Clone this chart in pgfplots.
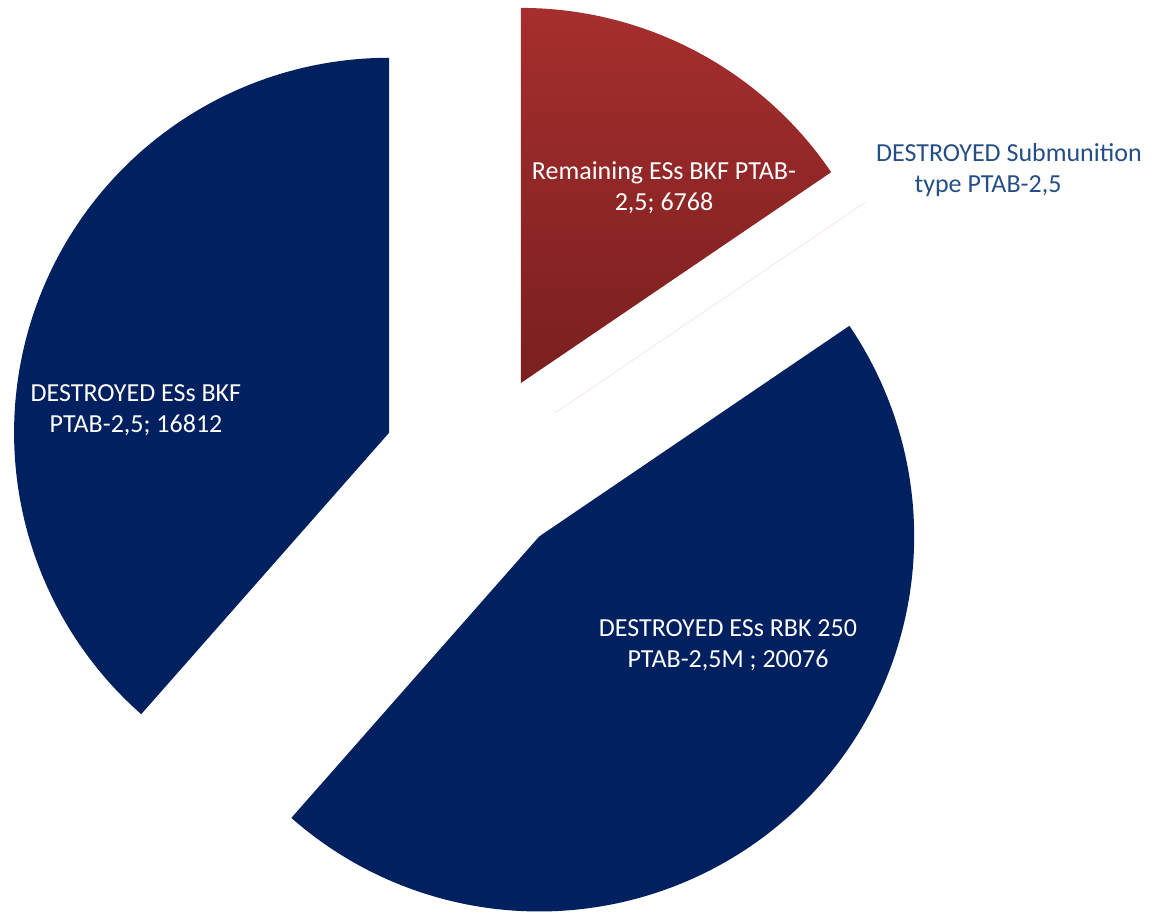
\documentclass[border=0pt]{standalone}
\usepackage{pgfplots}
\usepackage{pgfplotstable}
\pgfplotsset{compat=1.18}
\usepackage{fontspec}
\setmainfont{Carlito}
\definecolor{navy}{RGB}{0,32,96}
\definecolor{redtop}{RGB}{166,46,46}
\definecolor{redbot}{RGB}{122,31,31}
\definecolor{lblblue}{RGB}{37,78,134}
\definecolor{sliver}{RGB}{246,226,226}

% slice values, clockwise from 12 o'clock
\pgfplotstableread{
value
6768
1
20076
16812
}\piedata

\pgfplotstablegetelem{0}{value}\of\piedata \let\vA\pgfplotsretval
\pgfplotstablegetelem{1}{value}\of\piedata \let\vB\pgfplotsretval
\pgfplotstablegetelem{2}{value}\of\piedata \let\vC\pgfplotsretval
\pgfplotstablegetelem{3}{value}\of\piedata \let\vD\pgfplotsretval
\edef\tot{\fpeval{\vA+\vB+\vC+\vD}}
\edef\aA{90}
\edef\aB{\fpeval{round(\aA-360*\vA/\tot,4)}}
\edef\aC{\fpeval{round(\aB-360*\vB/\tot,4)}}
\edef\aD{\fpeval{round(\aC-360*\vC/\tot,4)}}
\edef\aE{\fpeval{round(\aD-360*\vD/\tot,4)}}
% pie centre, explosion distance, radius (in pixel units)
\def\cx{477}\def\cy{447}\def\ex{94}\def\R{375}
\edef\oxA{\fpeval{round(\cx+\ex*cosd((\aA+\aB)/2),3)}}\edef\oyA{\fpeval{round(\cy+\ex*sind((\aA+\aB)/2),3)}}
\edef\oxB{\fpeval{round(\cx+\ex*cosd((\aB+\aC)/2),3)}}\edef\oyB{\fpeval{round(\cy+\ex*sind((\aB+\aC)/2),3)}}
\edef\oxC{\fpeval{round(\cx+\ex*cosd((\aC+\aD)/2),3)}}\edef\oyC{\fpeval{round(\cy+\ex*sind((\aC+\aD)/2),3)}}
\edef\oxD{\fpeval{round(\cx+\ex*cosd((\aD+\aE)/2),3)}}\edef\oyD{\fpeval{round(\cy+\ex*sind((\aD+\aE)/2),3)}}

\begin{document}
\begin{tikzpicture}
\begin{axis}[
  scale only axis, width=581pt, height=456.5pt,
  xmin=0, xmax=1162, ymin=0, ymax=913,
  axis line style={draw=none}, ticks=none, clip=false,
]
\addplot[draw=none, top color=redtop, bottom color=redbot, domain=\aB:\aA, samples=120, variable=\t]
  ({\oxA+\R*cos(\t)},{\oyA+\R*sin(\t)}) -- (axis cs:\oxA,\oyA) -- cycle;
\addplot[draw=sliver, line width=0.3pt, fill=sliver, domain=\aC:\aB, samples=2, variable=\t]
  ({\oxB+\R*cos(\t)},{\oyB+\R*sin(\t)}) -- (axis cs:\oxB,\oyB) -- cycle;
\addplot[draw=none, fill=navy, domain=\aD:\aC, samples=200, variable=\t]
  ({\oxC+\R*cos(\t)},{\oyC+\R*sin(\t)}) -- (axis cs:\oxC,\oyC) -- cycle;
\addplot[draw=none, fill=navy, domain=\aE:\aD, samples=200, variable=\t]
  ({\oxD+\R*cos(\t)},{\oyD+\R*sin(\t)}) -- (axis cs:\oxD,\oyD) -- cycle;

\node[align=center, text=white, font=\fontsize{13}{15.5}\selectfont] at (axis cs:664,725)
  {Remaining ESs BKF PTAB-\\2,5; 6768};
\node[align=center, text=lblblue, font=\fontsize{13}{15.5}\selectfont] at (axis cs:1009,743)
  {DESTROYED Submunition\\type PTAB-2,5\hspace*{21pt}};
\node[align=center, text=white, font=\fontsize{13}{15.5}\selectfont] at (axis cs:728,268)
  {DESTROYED ESs RBK 250\\PTAB-2,5M ; 20076};
\node[align=center, text=white, font=\fontsize{13}{15.5}\selectfont] at (axis cs:136,503)
  {DESTROYED ESs BKF\\PTAB-2,5; 16812};
\end{axis}
\end{tikzpicture}
\end{document}
